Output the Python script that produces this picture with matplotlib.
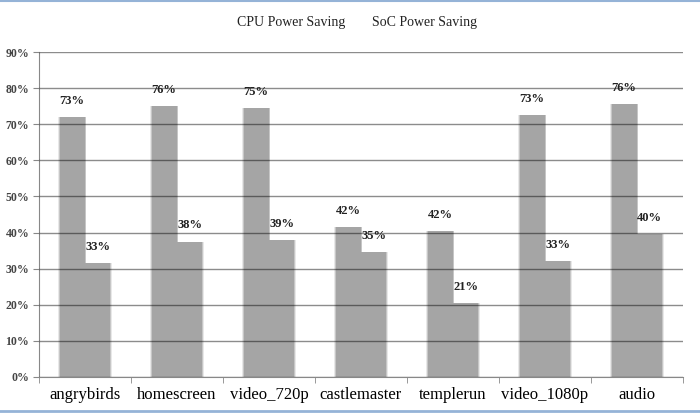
import matplotlib
matplotlib.use("Agg")
import matplotlib.pyplot as plt
import numpy as np

# datos
apps = ['angrybirds', 'homescreen', 'video_720p', 'castlemaster', 'templerun', 'video_1080p', 'audio']
cpu = [72, 75, 74.5, 41.5, 40.5, 72.5, 75.5]
soc = [31.5, 37.5, 38, 34.5, 20.5, 32, 39.5]
cpu_lbl = ['73%', '76%', '75%', '42%', '42%', '73%', '76%']
soc_lbl = ['33%', '38%', '39%', '35%', '21%', '33%', '40%']

plt.rcParams['font.family'] = ['Liberation Serif', 'DejaVu Serif']

fig = plt.figure(figsize=(7, 4.16), dpi=100)
ax = fig.add_axes([0.0557, 0.0938, 0.92, 0.781])

x = np.arange(len(apps))
w = 0.28
gris = '#a5a5a5'

# barras con borde difuso
for dw, a in [(0.03, 0.25), (0.015, 0.5)]:
    ax.bar(x - w/2, cpu, w + dw, color=gris, alpha=a, linewidth=0, zorder=1)
    ax.bar(x + w/2, soc, w + dw, color=gris, alpha=a, linewidth=0, zorder=1)
ax.bar(x - w/2, cpu, w - 0.01, color=gris, linewidth=0, zorder=2, label='CPU Power Saving')
ax.bar(x + w/2, soc, w - 0.01, color=gris, linewidth=0, zorder=2, label='SoC Power Saving')

for i in range(len(apps)):
    ax.text(x[i] - w/2, cpu[i] + 4.5, cpu_lbl[i], ha='center', va='center',
            fontsize=9, fontweight='bold', color='#222222', zorder=4)
    ax.text(x[i] + w/2, soc[i] + 4.5, soc_lbl[i], ha='center', va='center',
            fontsize=9, fontweight='bold', color='#222222', zorder=4)

ax.set_xlim(-0.5, len(apps) - 0.5)
ax.set_ylim(0, 90)
ax.set_yticks(np.arange(0, 91, 10))
ax.set_yticklabels([f'{v}%' for v in range(0, 91, 10)])
ax.yaxis.grid(True, color='black', alpha=0.45, linewidth=1, zorder=3)
ax.set_axisbelow(False)
ax.set_xticks(x)
ax.set_xticklabels(apps, fontsize=12)
ax.set_xticks(np.arange(-0.5, len(apps)), minor=True)
ax.tick_params(axis='x', which='major', length=0, pad=7)
ax.tick_params(axis='x', which='minor', length=4, color='#888888', direction='out')
ax.tick_params(axis='y', length=4, color='#888888', labelsize=8.5, labelcolor='#444444', pad=3)
for t in ax.get_yticklabels():
    t.set_fontweight('bold')
for s in ['top', 'right']:
    ax.spines[s].set_visible(False)
ax.spines['left'].set_color('#888888')
ax.spines['bottom'].set_color('#888888')

fig.text(0.416, 0.947, 'CPU Power Saving', ha='center', va='center', fontsize=10, color='#222222')
fig.text(0.607, 0.947, 'SoC Power Saving', ha='center', va='center', fontsize=10, color='#222222')

# marco azul arriba y abajo
fig.add_artist(plt.Line2D([0, 1], [0.998, 0.998], color='#95b3d7', linewidth=1.5))
fig.add_artist(plt.Line2D([0, 1], [0.012, 0.012], color='#95b3d7', linewidth=2))

fig.savefig('out.png', dpi=100)
